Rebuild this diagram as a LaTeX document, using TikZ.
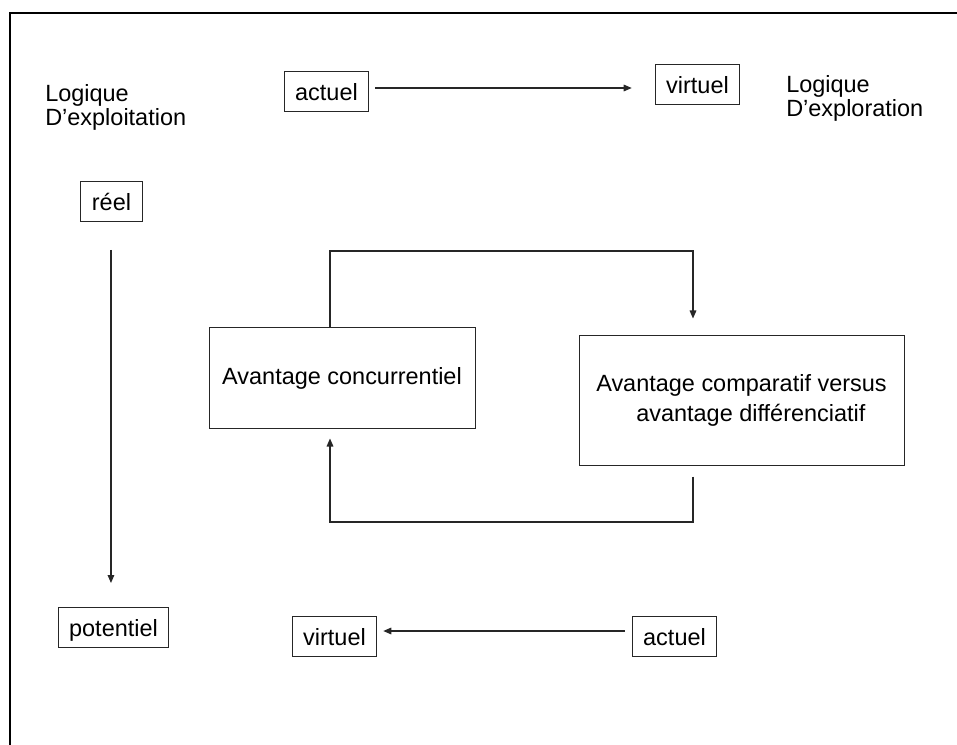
\documentclass[tikz,border=0pt]{standalone}
\usepackage{fontspec}
\setmainfont{Liberation Sans}
\usetikzlibrary{arrows.meta,calc}
\begin{document}
\begin{tikzpicture}[x=0.75pt,y=-0.75pt,
  txt/.style={font=\fontsize{17.6pt}{21pt}\selectfont},
  box/.style={txt, draw=black!85, line width=0.75pt, inner xsep=8.25pt, inner ysep=3.75pt, text height=18pt, text depth=4.5pt},
  bigbox/.style={txt, draw=black!85, line width=0.75pt, inner sep=0pt},
  lbl/.style={inner sep=0pt, anchor=north west, align=left, font=\fontsize{17.6pt}{18pt}\selectfont},
  ln/.style={line width=0.8pt, draw=black!85},
  arr/.style={ln, -{Triangle[length=6pt,width=5pt]}}]
\useasboundingbox (0,0) rectangle (957,745);
\draw[line width=1.5pt] (9.5,746) -- (9.5,13) -- (958,13);

% labels
\node[lbl] (logL) at (45,84.5) {Logique\\D’exploitation};
\node[lbl] (logR) at (786,75) {Logique\\D’exploration};

% small boxes
\node[box] (aT) at (326.5,92) {actuel};
\node[box] (vT) at (697.5,84.5) {virtuel};
\node[box] (reel) at (111.5,201.5) {réel};
\node[box] (pot) at (113.5,627.5) {potentiel};
\node[box] (vB) at (334.5,636) {virtuel};
\node[box] (aB) at (674.5,636) {actuel};

% big boxes
\node[bigbox, minimum width=199.5pt, minimum height=75pt] (conc) at (342,378) {Avantage concurrentiel};
\node[bigbox, minimum width=243.75pt, minimum height=96.75pt, align=left, font=\fontsize{17.6pt}{22pt}\selectfont] (comp) at (741.5,400.5) {Avantage comparatif versus\\\hspace*{30pt}avantage différenciatif};

% connectors
\draw[arr] ($(aT.east)+(4.5pt,3pt)$) -- ($(vT.west |- aT.east)+(-17.25pt,3pt)$);
\draw[arr] ($(reel.south)+(-0.4pt,-21pt)$) -- ($(reel.south |- pot.north)+(-0.4pt,18pt)$);
\draw[arr] ($(aB.west)+(-5.25pt,3.75pt)$) -- ($(vB.east |- aB.west)+(4.5pt,3.75pt)$);

\coordinate (tr) at (693,251);
\coordinate (bl) at (330,522);
\draw[arr] ($(conc.north)+(-9pt,0)$) |- (tr) -- ($(comp.north -| tr)+(0,12.75pt)$);
\draw[arr] ($(comp.south -| tr)+(0,-8.25pt)$) |- (bl) -- ($(conc.south -| bl)+(0,-7.5pt)$);
\end{tikzpicture}
\end{document}
